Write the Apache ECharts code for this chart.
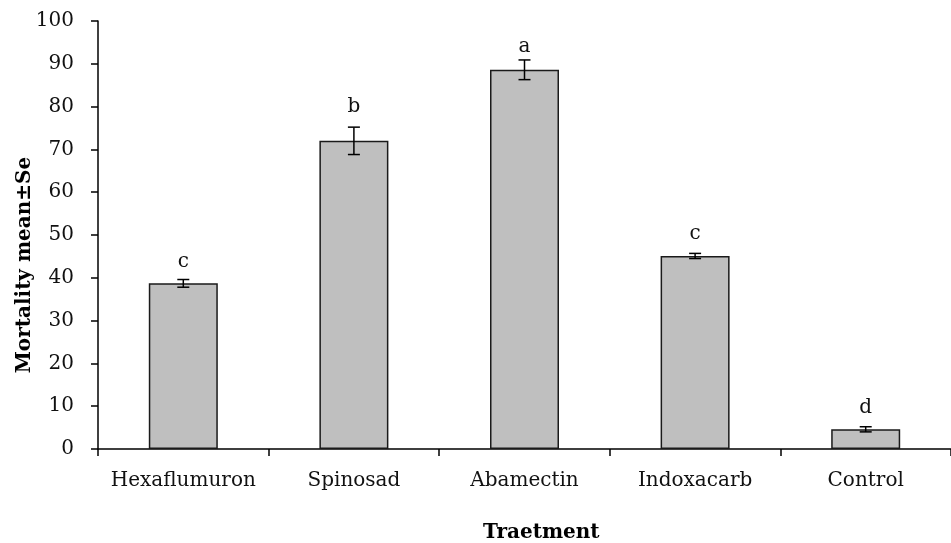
<!DOCTYPE html>
<html>
<head>
<meta charset="utf-8">
<script src="https://cdn.jsdelivr.net/npm/echarts@6/dist/echarts.min.js"></script>
<style>html,body{margin:0;padding:0;background:#fff}#c{width:951px;height:543px}</style>
</head>
<body>
<div id="c"></div>
<script>
const categories = ['Hexaflumuron', 'Spinosad', 'Abamectin', 'Indoxacarb', 'Control'];
const meanValues = [38.7, 72.0, 88.6, 45.1, 4.6];
const seValues = [0.9, 3.2, 2.3, 0.6, 0.6];
const groupLetters = ['c', 'b', 'a', 'c', 'd'];
const letterBaseline = [42.3, 78.5, 92.5, 48.8, 8.2];
const yTicks = [0, 10, 20, 30, 40, 50, 60, 70, 80, 90, 100];

const FONT = '"DejaVu Serif", serif';
const chart = echarts.init(document.getElementById('c'));

const errData = categories.map((c, i) => [i, meanValues[i] - seValues[i], meanValues[i] + seValues[i]]);
const letterData = categories.map((c, i) => [i, letterBaseline[i], groupLetters[i]]);

chart.setOption({
  animation: false,
  grid: { left: 98, top: 21, bottom: 94, right: -7 },
  xAxis: {
    type: 'category',
    data: categories,
    axisLine: { lineStyle: { color: '#000', width: 1.5 } },
    axisTick: { show: true, interval: 0, length: 7, lineStyle: { color: '#000', width: 1.5 } },
    axisLabel: { interval: 0, color: '#111', fontFamily: FONT, fontSize: 20, margin: 22 },
    splitLine: { show: false }
  },
  yAxis: {
    type: 'value',
    min: yTicks[0], max: yTicks[yTicks.length - 1], interval: 10,
    axisLine: { show: true, lineStyle: { color: '#000', width: 1.5 } },
    axisTick: { show: true, length: 7, lineStyle: { color: '#000', width: 1.5 } },
    axisLabel: { color: '#111', fontFamily: FONT, fontSize: 20, margin: 24 },
    splitLine: { show: false }
  },
  graphic: [
    { type: 'text', left: 483, top: 523, style: { text: 'Traetment', font: 'bold 20px ' + FONT, fill: '#000' } },
    { type: 'text', x: 25, y: 265, rotation: Math.PI / 2, style: { text: 'Mortality mean±Se', font: 'bold 20px ' + FONT, fill: '#000', align: 'center', verticalAlign: 'middle' } }
  ],
  series: [
    {
      type: 'bar',
      data: meanValues,
      barWidth: 69,
      itemStyle: { color: '#bfbfbf', borderColor: '#1a1a1a', borderWidth: 1.5 }
    },
    {
      type: 'custom',
      data: errData,
      z: 10,
      renderItem: function (params, api) {
        const x = api.coord([api.value(0), 0])[0];
        const lo = api.coord([api.value(0), api.value(1)])[1];
        const hi = api.coord([api.value(0), api.value(2)])[1];
        const hw = 6;
        const st = { stroke: '#000', lineWidth: 1.5 };
        return {
          type: 'group',
          children: [
            { type: 'line', shape: { x1: x, y1: lo, x2: x, y2: hi }, style: st },
            { type: 'line', shape: { x1: x - hw, y1: lo, x2: x + hw, y2: lo }, style: st },
            { type: 'line', shape: { x1: x - hw, y1: hi, x2: x + hw, y2: hi }, style: st }
          ]
        };
      }
    },
    {
      type: 'custom',
      data: letterData,
      z: 10,
      renderItem: function (params, api) {
        const p = api.coord([api.value(0), api.value(1)]);
        return {
          type: 'text',
          x: p[0], y: p[1] - 6,
          style: { text: groupLetters[params.dataIndex], font: '20px ' + FONT, fill: '#111', align: 'center', verticalAlign: 'middle' }
        };
      }
    }
  ]
});
</script>
</body>
</html>
